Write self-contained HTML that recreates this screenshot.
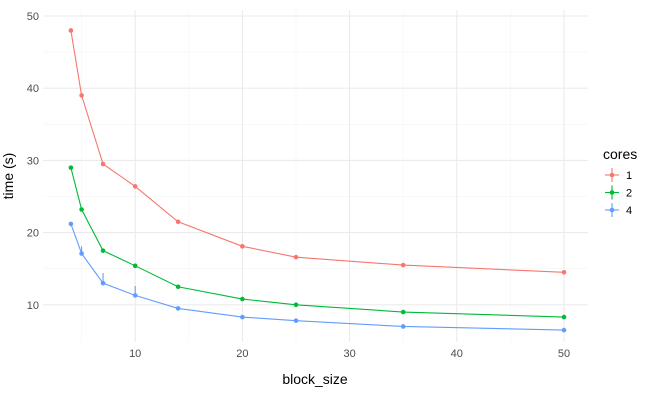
<!DOCTYPE html>
<html><head><meta charset="utf-8"><style>
body{margin:0;background:#fff;font-family:"Liberation Sans",sans-serif;}
svg text{font-family:"Liberation Sans",sans-serif;}
</style></head><body>
<svg id="chart" width="650" height="400"></svg>
<script>
const blockSizes=[4,5,7,10,14,20,25,35,50];
const core1=[48,39,29.5,26.4,21.5,18.1,16.6,15.5,14.5];
const core2=[29,23.2,17.5,15.4,12.5,10.8,10,9,8.3];
const core4=[21.2,17.1,13,11.3,9.5,8.3,7.8,7,6.5];
const core4Upper=[21.2,18.1,14.4,12.6,9.5,8.3,7.8,7,6.5];
const seriesNames=["1","2","4"];
const xTicks=[10,20,30,40,50];
const yTicks=[10,20,30,40,50];
const NS="http://www.w3.org/2000/svg";
const svg=document.getElementById('chart');
const L=43,R=588,T=10,B=342;
const x=v=>28+v*10.72;
const y=v=>377-v*7.22;
function el(t,a,p){const e=document.createElementNS(NS,t);for(const k in a)e.setAttribute(k,a[k]);(p||svg).appendChild(e);return e;}
const grid=el('g',{});


[5,15,25,35,45].forEach(v=>{el('line',{x1:x(v),x2:x(v),y1:T,y2:B,stroke:'#f4f4f4','stroke-width':0.6},grid);});
[15,25,35,45].forEach(v=>{el('line',{x1:L,x2:R,y1:y(v),y2:y(v),stroke:'#f4f4f4','stroke-width':0.6},grid);});
xTicks.forEach(v=>{el('line',{x1:x(v),x2:x(v),y1:T,y2:B,stroke:'#ebebeb','stroke-width':1.1},grid);
 const t=el('text',{x:x(v),y:357,'text-anchor':'middle','font-size':11,fill:'#4d4d4d'});t.textContent=v;
 
 });
yTicks.forEach(v=>{el('line',{x1:L,x2:R,y1:y(v),y2:y(v),stroke:'#ebebeb','stroke-width':1.1},grid);
 const t=el('text',{x:39,y:y(v)+4,'text-anchor':'end','font-size':11,fill:'#4d4d4d'});t.textContent=v;
 
 });
const xt=el('text',{x:315,y:384,'text-anchor':'middle','font-size':14,fill:'#000'});xt.textContent='block_size';


const yt=el('text',{x:13,y:176,'text-anchor':'middle','font-size':14,fill:'#000',transform:'rotate(-90 13 176)'});yt.textContent='time (s)';


const colors=['#f8766d','#00ba38','#619cff'];
const data=[core1,core2,core4];
data.forEach((s,i)=>{
 const g=el('g',{});
 
 
 el('polyline',{points:s.map((v,j)=>x(blockSizes[j])+','+y(v)).join(' '),fill:'none',stroke:colors[i],'stroke-width':1.1},g);
 s.forEach((v,j)=>{const c=el('circle',{cx:x(blockSizes[j]),cy:y(v),r:2.3,fill:colors[i]},g);
  
  });
});
core4Upper.forEach((u,j)=>{if(u>core4[j]){const l=el('line',{x1:x(blockSizes[j]),x2:x(blockSizes[j]),y1:y(u),y2:y(core4[j]),stroke:colors[2],'stroke-width':1.1});
 
 }});
const lg=el('g',{});


const lt=el('text',{x:603,y:159,'font-size':14,fill:'#000'},lg);lt.textContent='cores';
seriesNames.forEach((n,i)=>{const cy=175+i*17.5;
 const e=el('g',{},lg);
 
 
 el('line',{x1:605,x2:619,y1:cy,y2:cy,stroke:colors[i],'stroke-width':1.1},e);
 el('line',{x1:612,x2:612,y1:cy-7,y2:cy+7,stroke:colors[i],'stroke-width':1.1},e);
 el('circle',{cx:612,cy:cy,r:2.3,fill:colors[i]},e);
 const t=el('text',{x:626,y:cy+4,'font-size':11,fill:'#000'},e);t.textContent=n;});
</script>
</body></html>
